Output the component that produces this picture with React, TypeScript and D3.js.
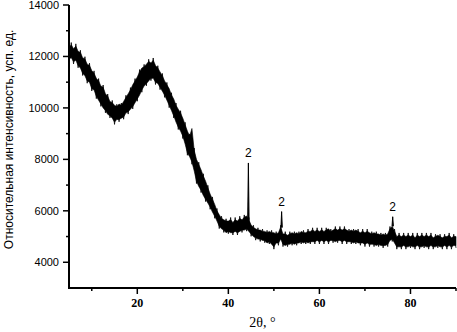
import { useRef, useEffect } from 'react';
import * as d3 from 'd3';

// 2θ шаг 0.5° от 5 до 90
const angleStart = 5;
const angleEnd = 90;
const angleStep = 0.5;

// верхняя граница шумовой полосы
const upper = [
  12350, 12450, 12300, 12400, 12200, 12150, 11950, 11900, 11700, 11650,
  11450, 11350, 11150, 11050, 10850, 10800, 10550, 10450, 10250, 10200,
  10100, 10050, 10150, 10100, 10250, 10400, 10550, 10700, 10900, 11050,
  11200, 11400, 11550, 11600, 11700, 11800, 11750, 11850, 11650, 11550,
  11400, 11250, 11050, 10900, 10750, 10500, 10350, 10100, 9950, 9800,
  9600, 9350, 9100, 8900, 9200, 8350, 8000, 7800, 7600, 7350,
  7150, 6900, 6650, 6450, 6250, 6000, 5850, 5700, 5650, 5600,
  5600, 5650, 5550, 5650, 5600, 5700, 5650, 5750, 5800, 5650,
  5450, 5350, 5300, 5250, 5250, 5200, 5200, 5150, 5200, 5150,
  5150, 5100, 5150, 5350, 5100, 5100, 5050, 5100, 5150, 5100,
  5150, 5100, 5200, 5150, 5150, 5200, 5200, 5250, 5200, 5250,
  5200, 5250, 5200, 5250, 5300, 5200, 5250, 5300, 5250, 5300,
  5250, 5300, 5250, 5200, 5250, 5200, 5250, 5200, 5150, 5200,
  5150, 5200, 5150, 5100, 5150, 5100, 5100, 5050, 5100, 5050,
  5100, 5300, 5400, 5200, 5000, 5050, 5000, 5050, 5000, 5050,
  5000, 5050, 4950, 5050, 5000, 5050, 5000, 5050, 5000, 5050,
  4950, 5000, 5050, 5000, 4950, 5000, 5000, 5050, 4950, 5000,
  5000
];

// нижняя граница шумовой полосы
const lower = [
  11900, 11950, 11800, 11850, 11650, 11550, 11350, 11250, 11050, 11000,
  10750, 10700, 10450, 10300, 10150, 10000, 9900, 9750, 9700, 9600,
  9450, 9550, 9550, 9600, 9650, 9800, 9850, 9950, 10050, 10200,
  10350, 10500, 10700, 10850, 10950, 11050, 11150, 11150, 11000, 10950,
  10800, 10650, 10500, 10300, 10100, 9900, 9700, 9450, 9250, 9100,
  8900, 8600, 8250, 8100, 7900, 7550, 7150, 6950, 6800, 6600,
  6450, 6300, 6150, 5950, 5800, 5600, 5400, 5300, 5250, 5150,
  5200, 5150, 5150, 5200, 5150, 5200, 5250, 5250, 5300, 5200,
  5100, 5000, 4950, 4900, 4900, 4850, 4850, 4750, 4800, 4700,
  4600, 4750, 4750, 4900, 4700, 4650, 4700, 4700, 4750, 4700,
  4750, 4750, 4800, 4750, 4800, 4750, 4800, 4800, 4800, 4850,
  4800, 4850, 4800, 4850, 4800, 4850, 4850, 4800, 4850, 4850,
  4800, 4850, 4800, 4800, 4800, 4750, 4800, 4750, 4750, 4750,
  4700, 4750, 4700, 4700, 4700, 4650, 4700, 4650, 4650, 4650,
  4700, 4850, 4900, 4750, 4600, 4600, 4600, 4650, 4600, 4600,
  4650, 4600, 4600, 4650, 4600, 4600, 4650, 4600, 4600, 4650,
  4600, 4600, 4650, 4600, 4600, 4650, 4600, 4650, 4600, 4650,
  4650
];

// рефлексы фазы 2
const peakAngles = [44.4, 51.7, 76.1];
const peakTops = [7860, 5970, 5770];
const peakLabels = ['2', '2', '2'];

const yMajor = [4000, 6000, 8000, 10000, 12000, 14000];
const yMinor = [5000, 7000, 9000, 11000, 13000];
const xMajor = [20, 40, 60, 80];
const xMinor = [10, 30, 50, 70, 90];

export default function App() {
  const svgRef = useRef<SVGSVGElement>(null);

  useEffect(() => {
    const width = 457;
    const height = 332;
    const margin = { top: 5, right: 1, bottom: 44, left: 69 };

    const svg = d3.select(svgRef.current)
      .html('')
      .attr('width', width)
      .attr('height', height);

    const x = d3.scaleLinear()
      .domain([angleStart, angleEnd])
      .range([margin.left, width - margin.right]);

    const y = d3.scaleLinear()
      .domain([3000, 14000])
      .range([height - margin.bottom, margin.top]);

    const angles = upper.map((_, i) => angleStart + i * angleStep);
    const band = angles.map((a, i) => ({ a, hi: upper[i], lo: lower[i] }));

    // полоса шума
    const area = d3.area<{ a: number; hi: number; lo: number }>()
      .x(d => x(d.a))
      .y0(d => y(d.lo))
      .y1(d => y(d.hi));

    svg.append('path')
      .datum(band)
      .attr('fill', '#000')
      .attr('stroke', '#000')
      .attr('stroke-width', 0.6)
      .attr('d', area);

    // зигзаг: чередуем верх и низ полосы
    const zig: [number, number][] = band.map((d, i) =>
      [x(d.a), y(i % 2 ? d.hi + 90 : d.lo - 90)]
    );
    svg.append('path')
      .attr('fill', 'none')
      .attr('stroke', '#000')
      .attr('stroke-width', 0.8)
      .attr('d', d3.line()(zig));

    // пики
    peakAngles.forEach((a, i) => {
      const idx = Math.round((a - angleStart) / angleStep);
      const base = upper[idx];
      svg.append('path')
        .attr('fill', '#000')
        .attr('stroke', '#000')
        .attr('stroke-width', 1)
        .attr('d', d3.line()([
          [x(a - 0.15), y(base)],
          [x(a), y(peakTops[i])],
          [x(a + 0.15), y(base)]
        ]));
      svg.append('text')
        .attr('x', x(a))
        .attr('y', y(peakTops[i]) - 6)
        .attr('text-anchor', 'middle')
        .attr('font-family', 'Liberation Sans, Arial, sans-serif')
        .attr('font-size', 12)
        .text(peakLabels[i]);
    });

    // оси
    const axisColor = '#000';
    svg.append('line')
      .attr('x1', x(angleStart)).attr('x2', x(angleStart))
      .attr('y1', y(14000)).attr('y2', y(3000) + 1)
      .attr('stroke', axisColor).attr('stroke-width', 2);
    svg.append('line')
      .attr('x1', x(angleStart) - 1).attr('x2', x(angleEnd))
      .attr('y1', y(3000)).attr('y2', y(3000))
      .attr('stroke', axisColor).attr('stroke-width', 2);

    svg.selectAll('.ymaj')
      .data(yMajor)
      .enter()
      .append('line')
      .attr('x1', x(angleStart) - 6).attr('x2', x(angleStart))
      .attr('y1', d => y(d)).attr('y2', d => y(d))
      .attr('stroke', axisColor).attr('stroke-width', 1.5);

    svg.selectAll('.ymin')
      .data(yMinor)
      .enter()
      .append('line')
      .attr('x1', x(angleStart) - 3).attr('x2', x(angleStart))
      .attr('y1', d => y(d)).attr('y2', d => y(d))
      .attr('stroke', axisColor).attr('stroke-width', 1.5);

    svg.selectAll('.ylab')
      .data(yMajor)
      .enter()
      .append('text')
      .attr('x', x(angleStart) - 10)
      .attr('y', d => y(d) + 4)
      .attr('text-anchor', 'end')
      .attr('font-family', 'Liberation Sans, Arial, sans-serif')
      .attr('font-size', 11)
      .text(d => d);

    svg.selectAll('.xmaj')
      .data(xMajor)
      .enter()
      .append('line')
      .attr('x1', d => x(d)).attr('x2', d => x(d))
      .attr('y1', y(3000)).attr('y2', y(3000) + 6)
      .attr('stroke', axisColor).attr('stroke-width', 1.5);

    svg.selectAll('.xmin')
      .data(xMinor)
      .enter()
      .append('line')
      .attr('x1', d => x(d)).attr('x2', d => x(d))
      .attr('y1', y(3000)).attr('y2', y(3000) + 3)
      .attr('stroke', axisColor).attr('stroke-width', 1.5);

    svg.selectAll('.xlab')
      .data(xMajor)
      .enter()
      .append('text')
      .attr('x', d => x(d))
      .attr('y', y(3000) + 19)
      .attr('text-anchor', 'middle')
      .attr('font-family', 'Liberation Serif, Times New Roman, serif')
      .attr('font-weight', 'bold')
      .attr('font-size', 12)
      .text(d => d);

    // подписи осей
    svg.append('text')
      .attr('x', (x(angleStart) + x(angleEnd)) / 2)
      .attr('y', y(3000) + 39)
      .attr('text-anchor', 'middle')
      .attr('font-family', 'Liberation Serif, Times New Roman, serif')
      .attr('font-size', 14)
      .text('2θ, °');

    svg.append('text')
      .attr('transform', `translate(13, ${(y(3000) + y(14000)) / 2 - 7}) rotate(-90)`)
      .attr('text-anchor', 'middle')
      .attr('font-family', 'Liberation Sans, Arial, sans-serif')
      .attr('font-size', 12)
      .text('Относительная интенсивность, усп. ед.');
  }, []);

  return (
    <svg ref={svgRef} style={{ position: 'absolute', left: 0, top: 0, background: '#fff' }} />
  );
}
